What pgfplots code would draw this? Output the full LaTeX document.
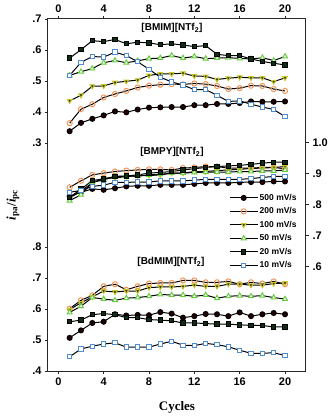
\documentclass[border=0pt]{standalone}
\usepackage{pgfplots}
\pgfplotsset{compat=1.18}
\usepackage{pgfplotstable}
\usepackage{fontspec}
\setmainfont{Liberation Serif}
\setsansfont{Liberation Sans}

% panel data: cycle, 500, 200, 100, 50, 20, 10 mV/s
\pgfplotstableread{
c s500 s200 s100 s50 s20 s10
1 0.338 0.364 0.436 0.518 0.574 0.518
2 0.365 0.409 0.454 0.530 0.601 0.560
3 0.378 0.425 0.483 0.540 0.630 0.579
4 0.389 0.447 0.484 0.559 0.627 0.577
5 0.402 0.458 0.495 0.566 0.634 0.593
6 0.399 0.468 0.499 0.559 0.620 0.582
7 0.408 0.479 0.503 0.565 0.625 0.562
8 0.414 0.485 0.518 0.572 0.623 0.538
9 0.415 0.488 0.523 0.574 0.617 0.512
10 0.416 0.490 0.523 0.582 0.620 0.497
11 0.416 0.489 0.525 0.574 0.616 0.487
12 0.422 0.492 0.516 0.579 0.611 0.472
13 0.422 0.490 0.515 0.572 0.614 0.472
14 0.426 0.484 0.505 0.574 0.586 0.454
15 0.426 0.474 0.509 0.575 0.582 0.434
16 0.429 0.477 0.512 0.573 0.582 0.436
17 0.434 0.485 0.510 0.571 0.571 0.425
18 0.433 0.484 0.510 0.575 0.563 0.416
19 0.433 0.474 0.498 0.566 0.557 0.408
20 0.434 0.468 0.510 0.579 0.552 0.385
}\bmim

\pgfplotstableread{
c s500 s200 s100 s50 s20 s10
1 0.827 0.856 0.821 0.813 0.824 0.840
2 0.840 0.877 0.845 0.832 0.850 0.846
3 0.851 0.896 0.870 0.872 0.878 0.859
4 0.848 0.902 0.886 0.880 0.883 0.863
5 0.853 0.907 0.886 0.891 0.891 0.872
6 0.859 0.910 0.891 0.891 0.893 0.872
7 0.861 0.912 0.893 0.893 0.896 0.873
8 0.861 0.914 0.894 0.896 0.902 0.873
9 0.864 0.914 0.896 0.898 0.904 0.877
10 0.864 0.912 0.902 0.902 0.907 0.877
11 0.864 0.918 0.902 0.902 0.912 0.877
12 0.867 0.920 0.907 0.904 0.916 0.879
13 0.870 0.923 0.907 0.905 0.920 0.882
14 0.870 0.923 0.910 0.905 0.923 0.882
15 0.870 0.918 0.912 0.905 0.925 0.882
16 0.872 0.918 0.914 0.907 0.927 0.882
17 0.873 0.918 0.917 0.907 0.930 0.884
18 0.873 0.920 0.918 0.909 0.934 0.888
19 0.875 0.920 0.920 0.909 0.937 0.891
20 0.875 0.916 0.923 0.912 0.937 0.891
}\bmpy

\pgfplotstableread{
c s500 s200 s100 s50 s20 s10
1 0.507 0.601 0.598 0.589 0.559 0.446
2 0.531 0.628 0.620 0.609 0.564 0.471
3 0.555 0.644 0.639 0.637 0.582 0.480
4 0.559 0.673 0.658 0.632 0.585 0.487
5 0.583 0.680 0.655 0.628 0.582 0.491
6 0.579 0.662 0.658 0.635 0.572 0.477
7 0.581 0.673 0.658 0.637 0.572 0.477
8 0.580 0.682 0.669 0.641 0.566 0.477
9 0.590 0.684 0.671 0.647 0.564 0.487
10 0.585 0.684 0.671 0.645 0.562 0.496
11 0.572 0.692 0.673 0.645 0.555 0.483
12 0.577 0.692 0.677 0.641 0.555 0.482
13 0.584 0.686 0.673 0.645 0.553 0.489
14 0.583 0.686 0.673 0.635 0.551 0.485
15 0.577 0.689 0.680 0.641 0.551 0.478
16 0.589 0.680 0.680 0.643 0.549 0.467
17 0.577 0.686 0.677 0.641 0.547 0.457
18 0.583 0.682 0.677 0.643 0.547 0.457
19 0.587 0.689 0.682 0.637 0.542 0.459
20 0.583 0.680 0.684 0.632 0.542 0.450
}\bdmim

\definecolor{c200}{RGB}{240,150,90}
\definecolor{c100f}{RGB}{45,45,10}
\definecolor{c100d}{RGB}{200,200,40}
\definecolor{c50}{RGB}{100,205,60}
\definecolor{c20}{RGB}{15,45,20}
\definecolor{c10}{RGB}{80,140,210}

\pgfplotsset{
  base/.style={scale only axis, width=258pt, height=352pt,
    at={(48pt,45pt)}, anchor=south west,
    xmin=-0.91, xmax=21.85,
    axis line style={black!85, line width=1pt},
    tick align=outside, major tick length=3pt,
    tick style={black!85, line width=0.6pt},
    ticklabel style={font=\sffamily\bfseries\fontsize{11}{13}\selectfont}},
  ser/.style={black, line width=1pt},
  s500/.style={ser, mark=*, mark size=2.5pt, mark options={fill=black!85!red, draw=black}},
  s200/.style={ser, mark=o, mark size=2.6pt, mark options={draw=c200, fill=white}},
  s100/.style={ser, mark=triangle*, mark size=2.6pt, mark options={rotate=180, fill=c100f, draw=c100d}},
  s50/.style={ser, mark=triangle*, mark size=2.8pt, mark options={fill=white, draw=c50}},
  s20/.style={ser, mark=square*, mark size=2.2pt, mark options={fill=c20, draw=black}},
  s10/.style={ser, mark=square*, mark size=2.2pt, mark options={fill=white, draw=c10}},
}

\begin{document}
\begin{tikzpicture}
\useasboundingbox (0,0) rectangle (333pt,416pt);

% top panel, left scale
\begin{axis}[base, ymin=-0.4355, ymax=0.7,
    ytick={0.3,0.4,0.5,0.6,0.7}, yticklabels={.3,.4,.5,.6,.7}, ytick pos=left,
    xtick={0,4,8,12,16,20}, xticklabels={0,4,8,12,16,20},
    xtick pos=right, xticklabel pos=right]
  \addplot[s500] table[x=c, y=s500] {\bmim};
  \addplot[s200] table[x=c, y=s200] {\bmim};
  \addplot[s100] table[x=c, y=s100] {\bmim};
  \addplot[s50] table[x=c, y=s50] {\bmim};
  \addplot[s20] table[x=c, y=s20] {\bmim};
  \addplot[s10] table[x=c, y=s10] {\bmim};
\end{axis}

% bottom panel, left scale
\begin{axis}[base, ymin=0.4, ymax=1.5355,
    ytick={0.4,0.5,0.6,0.7,0.8}, yticklabels={.4,.5,.6,.7,.8}, ytick pos=left,
    xtick={0,4,8,12,16,20}, xticklabels={0,4,8,12,16,20},
    xtick pos=left, xticklabel pos=left]
  \addplot[s500] table[x=c, y=s500] {\bdmim};
  \addplot[s200] table[x=c, y=s200] {\bdmim};
  \addplot[s100] table[x=c, y=s100] {\bdmim};
  \addplot[s50] table[x=c, y=s50] {\bdmim};
  \addplot[s20] table[x=c, y=s20] {\bdmim};
  \addplot[s10] table[x=c, y=s10] {\bdmim};
\end{axis}

% middle panel, right scale
\begin{axis}[base, ymin=0.2635, ymax=1.399,
    ytick={0.6,0.7,0.8,0.9,1.0}, yticklabels={.6,.7,.8,.9,1.0},
    ytick pos=right, yticklabel pos=right, xtick=\empty,
    legend style={at={(0.69,0.515)}, anchor=north west, draw=none, fill=none,
      row sep=1.5pt,
      font=\sffamily\bfseries\fontsize{8.5}{10}\selectfont,
      nodes={inner sep=1.5pt, text height=7pt, text depth=2pt}},
    legend cell align=left,
    legend image code/.code={\draw[mark repeat=2,mark phase=2,#1]
      plot coordinates {(0pt,0pt) (14pt,0pt) (28pt,0pt)};}]
  \addplot[s500] table[x=c, y=s500] {\bmpy};
  \addplot[s200] table[x=c, y=s200] {\bmpy};
  \addplot[s100] table[x=c, y=s100] {\bmpy};
  \addplot[s50] table[x=c, y=s50] {\bmpy};
  \addplot[s20] table[x=c, y=s20] {\bmpy};
  \addplot[s10] table[x=c, y=s10] {\bmpy};
  \legend{500 mV/s, 200 mV/s, 100 mV/s, 50 mV/s, 20 mV/s, 10 mV/s}
\end{axis}

\begin{scope}[every node/.style={font=\sffamily\bfseries\fontsize{10}{12}\selectfont}]
  \node at (172pt,388pt) {[BMIM][NTf\textsubscript{2}]};
  \node at (172pt,264pt) {[BMPY][NTf\textsubscript{2}]};
  \node at (171pt,154pt) {[BdMIM][NTf\textsubscript{2}]};
\end{scope}
\node[rotate=90, font=\bfseries\fontsize{13}{15}\selectfont] at (13pt,211pt)
  {\textit{i}\textsubscript{pa}/\textit{i}\textsubscript{pc}};
\node[font=\bfseries\fontsize{13}{15}\selectfont] at (177pt,9pt) {Cycles};
\end{tikzpicture}
\end{document}
